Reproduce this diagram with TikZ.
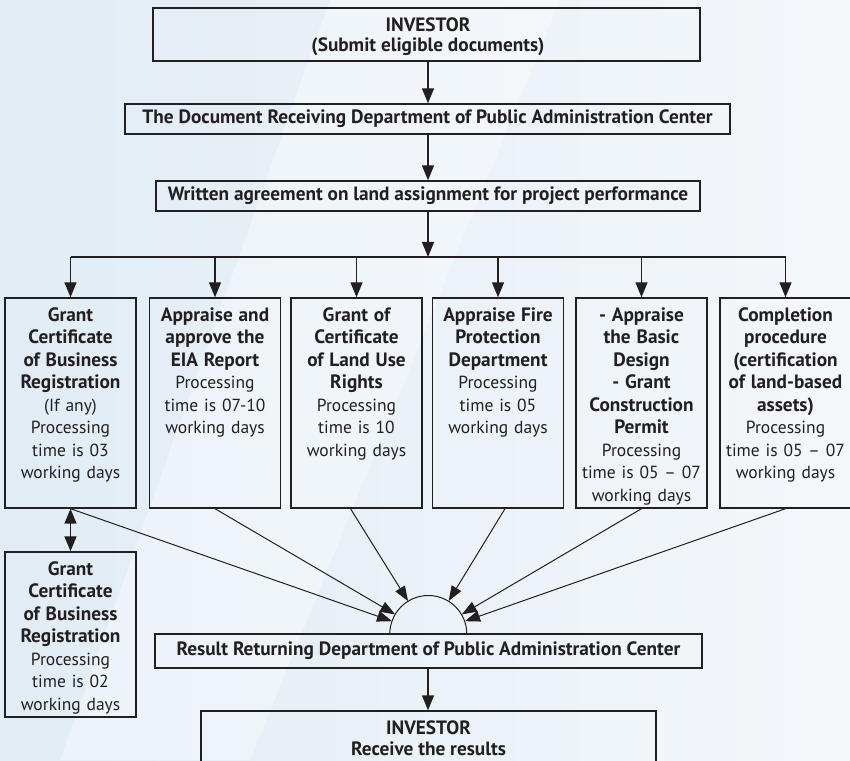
\documentclass[tikz,border=0pt]{standalone}
\usepackage{fontspec}
\setmainfont{PT Sans}
\usetikzlibrary{arrows.meta,calc}
\definecolor{ink}{HTML}{231F20}
\definecolor{bgL}{HTML}{E1ECF5}
\definecolor{bgR}{HTML}{F4F7FA}

\newcommand\hdfont{\bfseries\fontsize{19.3}{22.5}\selectfont}
\newcommand\bodyfont{\fontsize{17.5}{22.5}\selectfont}

\tikzset{
  x=1pt, y=1pt,
  hd/.tip={Triangle[length=15pt, width=12pt]},
  boxframe/.style={draw=ink, line width=1.4pt, inner sep=0pt, text=ink},
  boldline/.style={font=\bfseries\fontsize{19.3}{20.5}\selectfont, align=center},
  coltext/.style={font=\bodyfont, align=center,
    text width=131pt, inner sep=0pt, anchor=base, text=ink},
  colbox/.style={boxframe, minimum width=131pt, minimum height=210pt},
  flow/.style={draw=ink, line width=1.4pt, -hd},
  feed/.style={draw=ink, line width=1pt, -{Triangle[length=15pt, width=11pt]}},
}

\begin{document}
\begin{tikzpicture}
\clip (0,0) rectangle (850,760);
\shade[left color=bgL, right color=bgR] (0,0) rectangle (850,760);
\fill[white, opacity=0.35] (330,760) -- (560,760) -- (250,0) -- (60,0) -- cycle;

% upper chain
\node[boxframe, minimum width=547pt, minimum height=53pt] (inv) at (426.5,725.5) {};
\node[boldline, text=ink, inner sep=0pt] (invtext) at (428,723.5)
  {INVESTOR\\(Submit eligible documents)};
\node[boxframe, boldline, minimum width=605pt, minimum height=30pt] (recv) at (427.5,641)
  {The Document Receiving Department of Public Administration Center};
\node[boxframe, boldline, minimum width=544pt, minimum height=30pt] (agree) at (428,564)
  {Written agreement on land assignment for project performance};
\coordinate (bus) at (428,503);

% procedure columns
\node[colbox] (b1) at (70.5,357) {};
\node[colbox] (b2) at (215,357) {};
\node[colbox] (b3) at (356.5,357) {};
\node[colbox] (b4) at (498,357) {};
\node[colbox] (b5) at (641.5,357) {};
\node[colbox] (b6) at (785.5,357) {};
\node[boxframe, minimum width=131pt, minimum height=165pt] (b7) at (70.5,125.5) {};

\node[coltext] (t1) at ($(b1.north)+(0,-24)$)
  {{\hdfont Grant\\Certificate\\of Business\\Registration}\\(If any)\\Processing\\time is 03\\working days};
\node[coltext] (t2) at ($(b2.north)+(0,-24)$)
  {{\hdfont Appraise and\\approve the\\EIA Report}\\Processing\\time is 07-10\\working days};
\node[coltext] (t3) at ($(b3.north)+(0,-24)$)
  {{\hdfont Grant of\\Certificate\\of Land Use\\Rights}\\Processing\\time is 10\\working days};
\node[coltext] (t4) at ($(b4.north)+(0,-24)$)
  {{\hdfont Appraise Fire\\Protection\\Department}\\Processing\\time is 05\\working days};
\node[coltext] (t5) at ($(b5.north)+(0,-24)$)
  {{\hdfont - Appraise\\the Basic\\Design\\- Grant\\Construction\\Permit}\\Processing\\time is 05 – 07\\working days};
\node[coltext] (t6) at ($(b6.north)+(0,-24)$)
  {{\hdfont Completion\\procedure\\(certification\\of land-based\\assets)}\\Processing\\time is 05 – 07\\working days};
\node[coltext] (t7) at ($(b7.north)+(0,-24)$)
  {{\hdfont Grant\\Certificate\\of Business\\Registration}\\Processing\\time is 02\\working days};

% collecting point and result chain
\node[circle, minimum size=77pt, inner sep=0pt] (hub) at (428.5,126) {};
\draw[ink, line width=1pt] (hub.west) arc[start angle=180, end angle=0, radius=38.5pt];
\node[boxframe, boldline, minimum width=547pt, minimum height=34pt] (result) at (428.5,109)
  {Result Returning Department of Public Administration Center};
\node[boxframe, boldline, minimum width=455pt, minimum height=54pt] (final) at (428.5,22)
  {INVESTOR\\Receive the results};

% connectors
\draw[flow] (inv.south -| bus) -- (recv.north -| bus);
\draw[flow] (recv.south -| bus) -- (agree.north -| bus);
\draw[flow] (agree.south -| bus) -- (bus);
\draw[draw=ink, line width=1.4pt] (b1 |- bus) -- (b6 |- bus);
\foreach \b in {b1,b2,b3,b4,b5,b6}
  \draw[flow] (\b |- bus) -- (\b.north);
\draw[draw=ink, line width=1.4pt, hd-hd] (b1.south) -- (b7.north);

\draw[feed] (b1.south) -- (hub);
\draw[feed] (b2.south) -- (hub);
\draw[feed] ($(b3.south)+(-6,0)$) -- (hub);
\draw[feed] ($(b4.south)+(7,0)$) -- (hub);
\draw[feed] (b5.south) -- (hub);
\draw[feed] (b6.south) -- (hub);

\draw[flow] (result.south -| bus) -- (final.north -| bus);
\end{tikzpicture}
\end{document}
